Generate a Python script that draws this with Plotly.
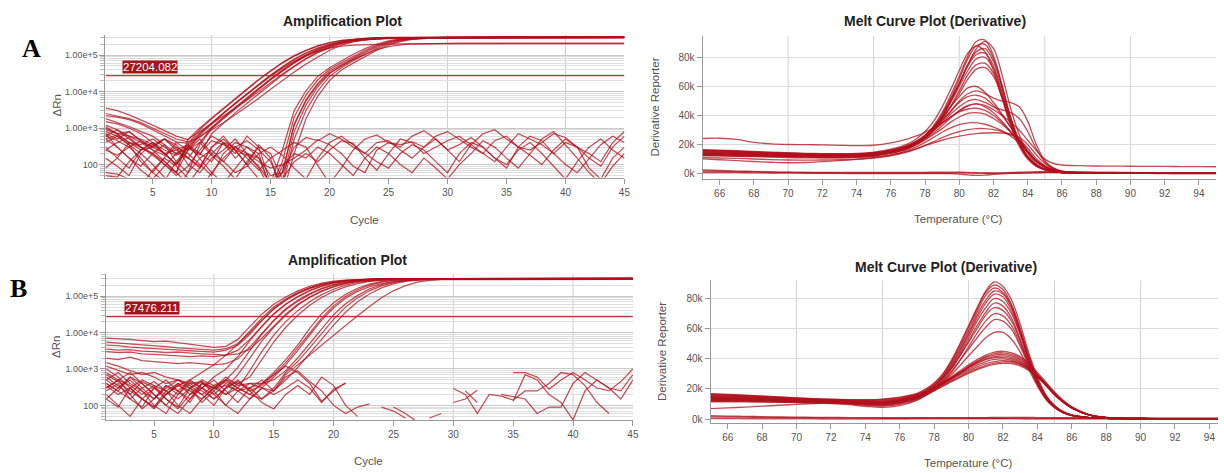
import math
import plotly.graph_objects as go

N = None

# ---------------- axis / tick data ----------------
cycles = list(range(1, 46))
amp_xticks = [5, 10, 15, 20, 25, 30, 35, 40, 45]
amp_xgrid = [10, 20, 30, 40]
amp_ytick_vals = [100, 1000, 10000, 100000]
amp_ytick_text = ["100", "1.00e+3", "1.00e+4", "1.00e+5"]
threshold_a = 27204.082
threshold_b = 27476.211

melt_temps = [65, 66, 67, 68, 69, 70, 71, 72, 73, 74, 75, 76, 77, 77.5, 78, 78.5, 79, 79.5,
              80, 80.5, 81, 81.5, 82, 82.5, 83, 83.5, 84, 84.5, 85, 85.5, 86, 87, 88, 89,
              90, 91, 92, 93, 94, 95]
melt_xticks = [66, 68, 70, 72, 74, 76, 78, 80, 82, 84, 86, 88, 90, 92, 94]
melt_xgrid = [70, 75, 80, 85, 90]
melt_yticks = [0, 20, 40, 60, 80]   # in thousands (k)
melt_ytick_text = ["0k", "20k", "40k", "60k", "80k"]

# ---------------- Panel A : amplification (delta Rn per cycle 1..45) ----------------
a_e1 = [3500,3000,2300,1700,1200,850,600,480,1000,1900,3500,6500,12000,21500,37000,62000,96000,135000,180000,220000,252000,274000,287000,294000,298000,300000,302000,303000,304000,305000,306000,306000,307000,307000,308000,308000,309000,309000,310000,310000,310000,311000,311000,312000,312000]
a_e2 = [2200,2000,1700,1300,900,600,420,380,900,1800,3300,6200,11500,21000,36000,60000,93000,132000,176000,216000,248000,270000,283000,290000,294000,296000,297000,298000,299000,300000,300000,301000,301000,302000,302000,303000,303000,304000,304000,305000,305000,305000,306000,306000,306000]
a_e3 = [1500,1300,1000,700,400,250,180,300,700,1370,2600,4800,8800,16000,28500,48000,78000,115000,157000,200000,237000,264000,280000,291000,296000,299000,301000,302000,303000,304000,305000,305000,306000,306000,307000,307000,308000,308000,308000,309000,309000,309000,310000,310000,310000]
a_e4 = [600,900,500,300,200,120,60,250,650,1300,2500,4600,8500,15500,27500,46000,75000,110000,150000,190000,225000,250000,266000,276000,282000,285000,287000,288000,289000,289000,290000,290000,291000,291000,291000,292000,292000,292000,293000,293000,293000,293000,294000,294000,294000]
a_e5 = [1100,700,800,450,300,500,250,150,400,1000,1900,3500,6500,12000,21500,37000,62000,96000,135000,180000,220000,252000,274000,287000,294000,298000,300000,301000,302000,303000,303000,304000,304000,305000,305000,306000,306000,306000,307000,307000,307000,308000,308000,308000,308000]
a_e6 = [700,300,150,90,200,350,120,60,350,950,1800,3400,6300,11500,21000,36000,60000,93000,130000,172000,210000,240000,262000,276000,285000,290000,293000,295000,296000,297000,297000,298000,298000,299000,299000,300000,300000,300000,301000,301000,301000,302000,302000,302000,302000]
a_e7 = [1800,1400,1100,800,600,350,200,280,180,700,1370,2600,4800,8800,16000,28500,48000,78000,115000,157000,200000,237000,264000,280000,291000,296000,299000,301000,302000,303000,303000,304000,304000,305000,305000,305000,306000,306000,306000,307000,307000,307000,307000,308000,308000]
a_e8 = [500,650,400,300,180,100,60,500,800,1300,2100,3500,5800,10000,17500,30000,50000,80000,120000,165000,210000,245000,270000,285000,292000,296000,298000,299000,300000,300000,301000,301000,301000,302000,302000,302000,302000,303000,303000,303000,303000,303000,304000,304000,304000]
a_e9 = [300,150,80,250,400,200,100,300,600,900,1400,2300,3800,6500,11500,20000,34000,57000,90000,135000,185000,228000,260000,278000,288000,293000,296000,297000,298000,299000,299000,300000,300000,300000,301000,301000,301000,301000,302000,302000,302000,302000,302000,302000,302000]
a_e10 = [900,700,600,500,350,200,250,350,750,1400,2600,4700,8500,15000,26000,43000,68000,98000,128000,155000,175000,187000,194000,198000,200000,201000,202000,202000,203000,203000,203000,204000,204000,204000,204000,205000,205000,205000,205000,205000,206000,206000,206000,206000,206000]
a_e11 = [2500,2100,1800,1400,1000,700,500,420,550,1050,2000,3700,6800,12500,22500,39000,65000,100000,142000,188000,230000,263000,285000,298000,305000,308000,310000,311000,312000,313000,313000,314000,314000,315000,315000,315000,316000,316000,316000,317000,317000,317000,317000,318000,318000]
a_l1 = [600,450,300,150,60,35,120,300,200,450,350,250,180,90,30,250,3000,10500,26000,45000,70000,105000,150000,200000,245000,275000,290000,298000,301000,302000,303000,303000,304000,304000,304000,305000,305000,305000,305000,306000,306000,306000,306000,306000,306000]
a_l2 = [250,400,550,300,200,100,50,90,250,600,400,150,300,200,20,60,1300,6000,17000,36000,55000,85000,125000,175000,225000,262000,284000,295000,300000,302000,302000,303000,303000,303000,304000,304000,304000,304000,305000,305000,305000,305000,305000,305000,305000]
a_l3 = [80,150,400,350,500,300,200,150,80,300,600,250,100,350,150,15,200,1800,7500,20000,39000,60000,92000,135000,185000,233000,268000,287000,296000,300000,301000,301000,302000,302000,303000,303000,303000,304000,304000,304000,304000,305000,305000,305000,305000]
a_l4 = [1200,900,600,400,250,180,300,200,100,50,200,400,300,150,25,120,2000,8000,21000,40000,61000,93000,135000,185000,230000,262000,279000,287000,290000,291000,291000,291000,292000,292000,292000,292000,292000,292000,292000,293000,293000,293000,293000,293000,293000]
a_l5 = [400,600,350,120,60,150,400,250,500,200,120,300,450,250,120,25,500,3000,10500,26000,45000,70000,105000,150000,200000,245000,275000,290000,298000,301000,303000,304000,305000,305000,306000,306000,306000,307000,307000,307000,307000,308000,308000,308000,308000]
a_l6 = [150,90,50,200,350,500,300,100,60,150,250,500,200,80,20,35,800,4300,13500,31000,50000,78000,115000,163000,213000,255000,280000,293000,299000,301000,302000,302000,303000,303000,303000,304000,304000,304000,304000,305000,305000,305000,305000,305000,305000]
a_l7 = [700,500,800,450,300,200,100,350,200,120,400,200,600,300,30,60,1200,5500,15500,32000,50000,75000,105000,140000,170000,190000,201000,206000,208000,209000,210000,210000,210000,210000,211000,211000,211000,211000,211000,212000,212000,212000,212000,212000,212000]
a_n1 = [60,55,40,25,70,150,90,40,20,60,150,300,200,120,80,100,150,250,480,350,200,90,60,250,400,350,420,300,600,800,500,300,200,450,600,300,250,400,700,550,300,200,120,400,800]
a_n2 = [500,300,150,70,40,90,200,350,150,60,30,80,200,150,50,60,300,550,450,700,500,300,200,400,450,250,150,300,500,250,120,350,700,900,500,300,180,100,250,500,300,80,40,150,300]
a_n3 = [800,600,350,200,100,45,20,60,150,250,120,60,90,200,300,180,80,40,150,400,600,350,200,120,80,200,350,250,120,60,200,400,300,150,80,300,600,450,200,100,60,150,350,600,400]
a_n4 = [250,180,300,450,250,120,60,30,80,200,400,300,150,70,150,250,400,300,100,30,80,250,500,650,400,300,600,850,500,250,350,550,300,150,100,250,400,200,90,40,120,300,500,250,150]
a_n5 = [50,45,120,250,400,200,100,250,400,180,90,40,120,300,200,40,120,200,120,250,450,380,150,70,200,500,400,200,300,450,600,350,200,120,300,700,500,350,200,400,300,150,90,300,600]
a_n6 = [1000,700,400,250,300,500,350,150,90,300,500,250,100,40,20,90,200,150,300,200,100,50,150,300,200,100,60,150,80,40,100,200,450,300,150,80,200,500,800,350,150,60,30,90,200]

# ---------------- Panel B : amplification ----------------
b_e1 = [7000,6800,6500,6000,5600,5800,5200,4800,4300,3900,4200,6500,14500,32000,60000,95000,140000,186000,228000,257000,276000,288000,295000,299000,301000,302000,303000,303000,304000,304000,305000,305000,305000,306000,306000,306000,307000,307000,307000,307000,308000,308000,308000,308000,308000]
b_e2 = [400,250,600,300,150,350,200,500,800,1300,2400,4800,11000,25000,50000,83000,127000,172000,215000,248000,270000,284000,292000,297000,300000,301000,302000,302000,303000,303000,303000,304000,304000,304000,304000,305000,305000,305000,305000,305000,306000,306000,306000,306000,306000]
b_e3 = [4500,4400,4000,3800,3600,3500,3300,3100,3000,2900,3300,4500,9000,21000,44000,77000,117000,163000,208000,244000,267000,282000,291000,296000,299000,300000,301000,301000,302000,302000,302000,303000,303000,303000,303000,304000,304000,304000,304000,304000,305000,305000,305000,305000,305000]
b_e4 = [1000,600,300,150,90,250,400,200,300,600,1000,2200,6000,15000,33000,60000,98000,145000,192000,232000,260000,278000,290000,296000,300000,302000,303000,304000,304000,305000,305000,306000,306000,306000,307000,307000,307000,307000,308000,308000,308000,308000,309000,309000,309000]
b_e5 = [3000,2800,2900,2600,2500,2400,2300,2200,2300,2200,2400,3300,6500,14500,32000,60000,95000,140000,186000,228000,257000,276000,288000,295000,299000,301000,302000,302000,303000,303000,303000,304000,304000,304000,304000,305000,305000,305000,305000,305000,306000,306000,306000,306000,306000]
b_e6 = [300,500,200,80,150,350,250,120,400,300,500,1100,3200,9000,21000,42000,72000,112000,158000,203000,240000,265000,281000,290000,296000,299000,300000,301000,301000,302000,302000,302000,303000,303000,303000,303000,304000,304000,304000,304000,304000,305000,305000,305000,305000]
b_e7 = [2000,1800,2100,1700,1600,1500,1400,1500,1400,1300,1400,1900,4000,9500,22000,45000,77000,117000,163000,208000,244000,267000,282000,291000,296000,299000,300000,301000,301000,301000,302000,302000,302000,302000,303000,303000,303000,303000,303000,304000,304000,304000,304000,304000,304000]
b_e8 = [150,300,500,250,100,60,200,400,250,150,300,700,2000,5800,14000,30000,56000,92000,135000,180000,222000,253000,273000,286000,293000,297000,300000,301000,301000,302000,302000,302000,303000,303000,303000,303000,304000,304000,304000,304000,304000,305000,305000,305000,305000]
b_e9 = [3500,3300,3400,3100,3000,2800,2900,2700,2600,2500,2400,2600,3500,7000,15000,32000,60000,95000,140000,186000,228000,257000,276000,288000,295000,299000,301000,302000,302000,303000,303000,303000,304000,304000,304000,304000,305000,305000,305000,305000,305000,306000,306000,306000,306000]
b_e10 = [600,350,200,450,300,150,90,300,500,350,200,300,900,3000,8500,20000,40000,70000,110000,155000,200000,238000,263000,280000,290000,296000,299000,300000,301000,301000,302000,302000,302000,302000,303000,303000,303000,303000,303000,304000,304000,304000,304000,304000,304000]
b_e11 = [5500,5200,5000,4600,4300,4100,3800,3600,3400,3300,3600,5000,10000,22000,45000,78000,118000,163000,206000,240000,263000,278000,287000,292000,295000,297000,298000,298000,299000,299000,300000,300000,300000,300000,301000,301000,301000,301000,301000,302000,302000,302000,302000,302000,302000]
b_e12 = [1200,900,700,800,600,400,500,300,200,350,500,400,600,1800,5500,14000,30000,56000,92000,135000,180000,222000,253000,273000,286000,293000,297000,300000,301000,301000,302000,302000,302000,303000,303000,303000,303000,304000,304000,304000,304000,304000,305000,305000,305000]
b_l1 = [250,400,150,90,300,500,250,150,400,300,600,350,400,400,800,1800,4500,13000,33000,66000,112000,165000,215000,252000,276000,290000,297000,300000,301000,302000,302000,303000,303000,303000,304000,304000,304000,304000,305000,305000,305000,305000,305000,306000,306000]
b_l2 = [500,300,600,400,200,100,250,450,300,150,300,500,250,350,700,1500,3800,10000,25000,55000,98000,150000,202000,243000,270000,286000,295000,299000,301000,302000,302000,303000,303000,303000,303000,304000,304000,304000,304000,304000,305000,305000,305000,305000,305000]
b_l3 = [1500,1200,900,700,800,600,500,400,450,300,350,250,300,400,500,900,2000,5000,13000,31000,62000,105000,158000,208000,246000,272000,287000,295000,299000,301000,302000,303000,303000,304000,304000,304000,305000,305000,305000,305000,305000,306000,306000,306000,306000]
b_l4 = [200,100,50,150,300,200,400,300,120,250,500,300,200,150,300,800,1600,3800,9500,23000,50000,90000,140000,192000,235000,265000,283000,293000,298000,301000,302000,302000,303000,303000,303000,304000,304000,304000,304000,305000,305000,305000,305000,305000,305000]
b_l5 = [800,500,350,200,350,250,150,300,450,200,100,250,400,300,250,500,1100,2600,6500,16000,36000,70000,115000,168000,218000,255000,278000,291000,297000,300000,302000,303000,303000,303000,303000,304000,304000,304000,304000,304000,305000,305000,305000,305000,305000]
b_l6 = [350,200,300,150,80,200,350,500,300,200,400,250,150,300,600,1300,3200,8500,22000,48000,88000,135000,182000,222000,252000,270000,279000,283000,285000,285000,286000,286000,286000,286000,287000,287000,287000,287000,287000,288000,288000,288000,288000,288000,288000]
b_l7 = [400,250,150,300,450,250,100,60,150,300,200,400,300,150,250,700,1300,2500,4700,8800,16000,29000,52000,90000,140000,195000,242000,272000,288000,296000,299000,300000,301000,302000,302000,303000,303000,303000,304000,304000,304000,304000,305000,305000,305000]
b_n1 = [700,450,250,150,90,200,350,250,150,300,450,300,200,400,700,1200,800,400,130,250,420,N,N,N,N,N,N,N,N,120,150,260,N,200,170,150,60,90,90,400,800,500,300,250,700]
b_n2 = [300,500,800,400,200,100,60,150,300,500,250,120,300,500,250,600,900,450,250,100,60,90,110,N,90,60,35,N,N,290,200,60,200,180,140,250,250,400,800,700,350,120,60,N,N]
b_n3 = [150,90,300,500,350,150,80,200,400,250,100,60,150,300,200,300,500,300,120,280,400,N,N,N,N,N,N,45,60,N,250,120,N,N,800,800,600,280,500,800,500,300,250,450,1000]
b_n4 = [500,800,400,250,150,300,500,350,200,100,300,450,250,120,80,200,350,200,600,350,100,50,N,90,70,45,N,N,N,N,N,N,N,N,130,700,500,200,120,40,250,500,300,150,500]

# ---------------- Panel A : melt derivative (thousands) ----------------
ma_h1 = [15.5,15.3,15.0,14.6,14.2,13.8,13.5,13.3,13.2,13.4,14.2,16,19,22,26,33,42,54,67,81,91,92,81,61,39,23,12,6,3,1.6,0.9,0.5,0.3,0.3,0.2,0.2,0.2,0.2,0.2,0.2]
ma_h2 = [14.0,13.9,13.7,13.4,13.1,12.8,12.6,12.4,12.4,12.6,13.4,15.2,18.5,21.5,25.5,32,41,52,65,79,88,89,79,60,38,22,11.5,5.8,2.9,1.5,0.8,0.4,0.3,0.2,0.2,0.2,0.1,0.1,0.1,0.1]
ma_h3 = [16.5,16.2,15.8,15.3,14.8,14.4,14.0,13.8,13.7,13.9,14.8,16.8,20.5,24,29,36,46,58,71,83,88,84,71,52,33,19,10,5,2.6,1.4,0.8,0.5,0.4,0.3,0.3,0.3,0.2,0.2,0.2,0.2]
ma_h4 = [13.0,12.9,12.7,12.5,12.2,12.0,11.8,11.7,11.7,11.9,12.7,14.5,17.8,20.8,24.5,30.5,39,50,62,75,84,86,77,59,38,22,11.5,5.8,2.9,1.5,0.8,0.4,0.3,0.2,0.2,0.2,0.2,0.1,0.1,0.1]
ma_h5 = [15.0,14.8,14.5,14.1,13.7,13.4,13.1,12.9,12.8,13.0,13.8,15.6,19,22,26,32,40,51,62,74,82,83,74,56,36,21,11,5.5,2.8,1.5,0.8,0.5,0.3,0.3,0.2,0.2,0.2,0.2,0.2,0.2]
ma_h6 = [14.5,14.4,14.2,13.9,13.6,13.3,13.0,12.8,12.7,12.9,13.6,15.3,18.5,21.5,25.5,31,39,49,60,71,79,80,72,55,36,21,11,5.5,2.8,1.5,0.8,0.5,0.3,0.3,0.2,0.2,0.2,0.2,0.2,0.2]
ma_h7 = [12.5,12.4,12.2,12.0,11.8,11.6,11.4,11.3,11.3,11.5,12.2,14,17,20,24,29.5,37,46.5,57,68,75,76,69,53,35,20.5,11,5.5,2.8,1.5,0.8,0.5,0.3,0.3,0.2,0.2,0.2,0.2,0.2,0.2]
ma_h8 = [16.0,15.7,15.3,14.8,14.3,13.9,13.5,13.3,13.2,13.4,14.2,16,19.2,22.2,26,31,38,46,55,65,72,73,67,52,35,21,11.5,6,3,1.6,0.9,0.5,0.4,0.3,0.3,0.2,0.2,0.2,0.2,0.2]
ma_h9 = [13.8,13.6,13.4,13.1,12.8,12.5,12.2,12.0,12.0,12.2,13.0,14.8,18,21,25,31,39,50,62,75,86,91,86,68,45,27,14,7,3.5,1.8,1,0.5,0.3,0.2,0.2,0.2,0.2,0.2,0.2,0.2]
ma_m1 = [14.8,14.6,14.3,13.9,13.5,13.2,12.9,12.7,12.6,12.8,13.6,15.4,19,22,26.5,32,38.5,46,53,59,60,56,49,41,32,23,15,8.5,4.5,2.3,1.2,0.6,0.4,0.3,0.3,0.2,0.2,0.2,0.2,0.2]
ma_m2 = [13.5,13.4,13.2,12.9,12.6,12.3,12.1,11.9,11.9,12.1,12.9,14.6,18,21,25,30,36,43,50,55,57,55,52,50,49,46,36,20,9,4,1.8,0.8,0.5,0.4,0.3,0.3,0.3,0.2,0.2,0.2]
ma_m3 = [15.5,15.3,15.0,14.6,14.2,13.8,13.5,13.3,13.2,13.4,14.2,16,19.5,22.5,26.5,31.5,37,43,49,53,54,52,47,40,32,24,16,9,5,2.5,1.3,0.6,0.4,0.3,0.3,0.3,0.2,0.2,0.2,0.2]
ma_m4 = [14.2,14.0,13.8,13.5,13.2,12.9,12.6,12.4,12.3,12.5,13.3,15,18.3,21.3,25,29.5,35,41,46,50,51,49,46,44,42,38,29,17,8,3.5,1.6,0.7,0.5,0.4,0.3,0.3,0.3,0.2,0.2,0.2]
ma_m5 = [12.8,12.7,12.5,12.3,12.1,11.9,11.7,11.6,11.6,11.8,12.6,14.3,17.5,20.3,23.8,28,33,38.5,43.5,47,48,46,42,36,29,22,15,8.5,4.5,2.3,1.2,0.6,0.4,0.3,0.3,0.2,0.2,0.2,0.2,0.2]
ma_m6 = [16.2,15.9,15.5,15.0,14.5,14.1,13.7,13.5,13.4,13.6,14.4,16.2,19.5,22.3,25.8,30,34.5,39,42.5,44.5,45,43.5,40,35,29,22,15,8.5,4.5,2.3,1.2,0.6,0.4,0.3,0.3,0.2,0.2,0.2,0.2,0.2]
ma_m7 = [13.2,13.1,12.9,12.6,12.3,12.0,11.8,11.6,11.6,11.8,12.5,14.2,17.3,20,23.3,27,31,35.5,39,41.5,42,41,38,34,28.5,22,15,8.5,4.5,2.3,1.2,0.6,0.4,0.3,0.3,0.2,0.2,0.2,0.2,0.2]
ma_w1 = [11.0,10.8,10.5,10.1,9.7,9.4,9.3,9.4,9.6,10,11,12.8,16,18.5,21.5,25,28.5,31.5,33.8,35,35,34,32,29.5,26,21,15,9,5,2.6,1.4,0.7,0.5,0.4,0.3,0.3,0.3,0.2,0.2,0.2]
ma_w2 = [10.2,9.6,9.0,8.4,7.9,7.5,7.7,8.3,9.0,9.8,10.8,12.3,15,17,19.5,22,24.8,27.2,29,30.3,31,31,30.3,29,27,23.5,17.5,10.5,5.5,2.8,1.4,0.7,0.5,0.4,0.3,0.3,0.3,0.2,0.2,0.2]
ma_w3 = [12.5,12.3,12.0,11.7,11.4,11.1,10.9,10.8,10.8,11,11.7,13,15.5,17.3,19.3,21.2,23,24.6,25.9,26.9,27.6,28,28.2,28,27,25,20,13,7,3.5,1.7,0.8,0.5,0.4,0.3,0.3,0.3,0.2,0.2,0.2]
ma_o1 = [24.2,24.4,23.6,21.5,20.5,20.1,20.0,19.8,19.5,19.3,19.6,21.2,24,26,28.5,31.5,35,39,43,46.5,48,47,44,40,35.5,30,23,16,10,7,6,5.5,5.3,5.2,5.1,5.0,5.0,4.9,4.9,4.8]
ma_n1 = [1.8,1.6,1.4,1.2,1.0,0.9,0.8,0.7,0.6,0.6,0.5,0.5,0.5,0.5,0.5,0.5,0.5,0.5,0.6,0.6,0.5,0.3,0.2,0.3,0.4,0.5,0.6,0.6,0.7,0.7,0.7,0.7,0.6,0.6,0.6,0.5,0.5,0.5,0.5,0.5]
ma_n2 = [0.8,0.8,0.7,0.6,0.5,0.4,0.3,0.2,0.2,0.1,0.1,0.1,0.1,0.1,0.1,0.1,0.0,0.0,-0.3,-0.8,-1.2,-1.0,-0.5,-0.1,0.2,0.4,0.6,0.8,1.0,1.1,1.1,1.0,0.9,0.8,0.7,0.7,0.6,0.6,0.5,0.5]
ma_n3 = [2.5,2.2,1.8,1.5,1.2,1.0,0.9,0.8,0.8,0.8,0.8,0.8,0.9,0.9,0.9,1.0,1.0,1.0,1.0,0.8,0.6,0.5,0.5,0.6,0.8,1.0,1.2,1.3,1.3,1.2,1.1,1.0,0.9,0.8,0.8,0.7,0.7,0.6,0.6,0.6]

# ---------------- Panel B : melt derivative (thousands) ----------------
mb_h1 = [15.0,14.8,14.5,14.1,13.7,13.3,13.0,12.8,12.7,12.8,13.3,14.6,17,20,24,30,39,50,62,74,85,91,88,79,63,44,28,16,9,5,2.8,1,0.5,0.3,0.3,0.2,0.2,0.2,0.2,0.2]
mb_h2 = [16.5,16.2,15.8,15.2,14.6,14.0,13.5,13.1,12.8,12.7,13.0,14.2,16.5,19.5,23.5,29.5,38,49,61,73,84,89,86,76,60,42,27,15.5,8.8,4.8,2.7,1,0.5,0.3,0.3,0.2,0.2,0.2,0.2,0.2]
mb_h3 = [13.5,13.4,13.2,12.9,12.6,12.3,12.0,11.8,11.6,11.5,11.8,13,15.5,18.5,22.5,28.5,37,47.5,59,71,82,87,84,75,59,41,26,15,8.5,4.6,2.6,1,0.5,0.3,0.3,0.2,0.2,0.2,0.2,0.2]
mb_h4 = [14.2,14.0,13.7,13.4,13.0,12.6,12.3,12.0,11.6,11.2,11.2,12.3,15,18,22,28,36,46,57,69,79,85,83,74,58,40,25.5,15,8.5,4.6,2.6,1,0.5,0.3,0.3,0.2,0.2,0.2,0.2,0.2]
mb_h5 = [12.5,12.5,12.4,12.2,12.0,11.8,11.6,11.4,11.2,11.0,11.2,12.5,15,18,22,27.5,35,45,56,67,77,83,81,72,57,40,25,14.5,8.2,4.5,2.5,1,0.5,0.3,0.3,0.2,0.2,0.2,0.2,0.2]
mb_h6 = [15.5,15.2,14.8,14.3,13.8,13.3,12.9,12.5,12.0,11.5,11.3,12.3,14.8,17.8,21.5,27,34,43.5,54,65,74,80,78,70,56,39,25,14.5,8.2,4.5,2.5,1,0.5,0.3,0.3,0.2,0.2,0.2,0.2,0.2]
mb_h7 = [13.0,12.9,12.7,12.4,12.1,11.8,11.5,11.2,10.8,10.3,10.1,11.2,13.8,16.8,20.5,26,33,42,52,62,71,77,75,67,53,37,24,14,8,4.4,2.5,1,0.5,0.3,0.3,0.2,0.2,0.2,0.2,0.2]
mb_h8 = [16.8,16.4,15.9,15.3,14.7,14.1,13.6,13.2,12.8,12.5,12.6,13.6,16,19,22.5,27.5,34,42,51,60,69,74,72,65,52,37,24,14,8,4.4,2.5,1,0.5,0.3,0.3,0.2,0.2,0.2,0.2,0.2]
mb_h9 = [12.0,12.0,11.9,11.8,11.6,11.4,11.2,11.0,10.6,10.0,9.6,10.6,13.2,16,19.5,24.5,31,39,48,57,65,70,68.5,62,50,36,23.5,14,8,4.4,2.5,1,0.5,0.3,0.3,0.2,0.2,0.2,0.2,0.2]
mb_h10 = [14.8,14.6,14.3,13.9,13.5,13.1,12.7,12.3,11.8,11.3,11.0,12.0,14.5,17.3,20.8,25.5,31.5,39,46.5,54,61,66,65,59.5,48.5,35,23,13.5,7.8,4.3,2.4,1,0.5,0.3,0.3,0.2,0.2,0.2,0.2,0.2]
mb_h11 = [13.8,13.7,13.5,13.2,12.9,12.6,12.3,12.0,11.5,10.8,10.5,11.5,14,16.8,20,24.5,29.5,35.5,42,48,54,57.5,57.5,53,44.5,33,22,13,7.5,4.2,2.4,1,0.5,0.3,0.3,0.2,0.2,0.2,0.2,0.2]
mb_l1 = [16.2,15.9,15.4,14.8,14.2,13.6,13.1,12.7,12.3,12.0,12.1,13.2,16,18,21,24.5,28,32,36,39.5,42.5,44.5,45,44,41.5,37,31,24.5,18,12.5,8.2,3,1.1,0.5,0.4,0.3,0.3,0.3,0.2,0.2]
mb_l2 = [13.0,12.9,12.7,12.4,12.1,11.8,11.5,11.2,10.8,10.3,10.2,11.4,14.3,16.5,19.5,23,26.5,30.5,34.5,38,41,42.5,43,42,39.5,35,29.5,23.5,17,11.8,7.8,2.8,1,0.5,0.4,0.3,0.3,0.3,0.2,0.2]
mb_l3 = [14.5,14.3,14.0,13.6,13.2,12.8,12.4,12.0,11.5,11.0,10.8,12.0,15,17.5,20.5,24,27.5,31,34.5,37.5,40,41.5,42,41,38.5,34.5,29,23,16.5,11.5,7.5,2.8,1,0.5,0.4,0.3,0.3,0.3,0.2,0.2]
mb_l4 = [11.5,11.5,11.4,11.3,11.2,11.1,11.0,10.8,10.3,9.5,9.0,10.5,14,16.8,20,23.5,27,30.5,34,37,39.5,40.8,41,40,37.8,34,28.5,22.5,16,11,7.2,2.6,1,0.5,0.4,0.3,0.3,0.3,0.2,0.2]
mb_l5 = [15.8,15.5,15.0,14.4,13.8,13.2,12.7,12.2,11.6,11.0,10.6,11.6,14.5,17,20,23.5,27,30,33,35.8,38.2,39.6,40,39.2,37,33.5,28.5,22.8,16.5,11.5,7.5,2.8,1,0.5,0.4,0.3,0.3,0.3,0.2,0.2]
mb_l6 = [7.0,7.5,8.0,8.6,9.2,9.8,10.3,10.6,10.4,9.8,9.5,11,14.2,16.8,19.8,23,26.2,29.2,32,34.7,36.8,38.2,38.8,38.4,36.6,33.5,29,23.5,17.2,12,8,3,1.1,0.5,0.4,0.3,0.3,0.3,0.2,0.2]
mb_l7 = [12.2,12.1,11.9,11.6,11.3,11.0,10.7,10.3,9.6,8.5,7.8,9,12.5,15.5,18.8,22,25.2,28.2,31,33.5,35.7,37.2,38,37.8,36.2,33,28.2,22.5,16.5,11.5,7.5,2.8,1,0.5,0.4,0.3,0.3,0.3,0.2,0.2]
mb_l8 = [14.0,13.8,13.5,13.1,12.7,12.3,11.9,11.5,11.0,10.5,10.4,11.6,14.8,17.2,20.3,23.8,27.4,31,35,38.5,41.5,43.5,44,43,40.5,36,30,23.5,17,11.8,7.8,2.8,1,0.5,0.4,0.3,0.3,0.3,0.2,0.2]
mb_l9 = [13.2,13.0,12.8,12.5,12.2,11.8,11.4,11.0,10.2,9.2,8.6,9.8,13,15.8,18.8,21.8,24.8,27.7,30.3,32.8,34.8,36.3,37,36.8,35.3,32.3,27.8,22.2,16.2,11.3,7.4,2.8,1,0.5,0.4,0.3,0.3,0.3,0.2,0.2]
mb_n1 = [1.5,1.4,1.3,1.2,1.1,1.0,0.9,0.8,0.7,0.7,0.6,0.6,0.6,0.6,0.7,0.7,0.7,0.7,0.6,0.6,0.6,0.6,0.6,0.7,0.7,0.7,0.6,0.6,0.6,0.6,0.6,0.5,0.5,0.5,0.5,0.5,0.5,0.5,0.5,0.5]
mb_n2 = [0.5,0.5,0.4,0.4,0.3,0.3,0.3,0.2,0.2,0.2,0.2,0.2,0.3,0.3,0.3,0.3,0.4,0.4,0.4,0.4,0.4,0.4,0.3,0.3,0.3,0.2,0.2,0.2,0.2,0.2,0.2,0.2,0.2,0.1,0.1,0.1,0.1,0.1,0.1,0.1]
mb_n3 = [2.2,2.0,1.8,1.6,1.4,1.3,1.2,1.1,1.0,0.9,0.9,0.9,0.9,0.9,0.9,0.9,1.0,1.0,1.0,1.0,1.0,1.1,1.1,1.1,1.1,1.1,1.0,1.0,1.0,0.9,0.9,0.9,0.8,0.8,0.8,0.7,0.7,0.7,0.7,0.7]

amp_a_series = [a_n1, a_n2, a_n3, a_n4, a_n5, a_n6, a_l1, a_l2, a_l3, a_l4, a_l5, a_l6, a_l7,
                a_e1, a_e2, a_e3, a_e4, a_e5, a_e6, a_e7, a_e8, a_e9, a_e10, a_e11]
amp_b_series = [b_n1, b_n2, b_n3, b_n4, b_l1, b_l2, b_l3, b_l4, b_l5, b_l6, b_l7,
                b_e1, b_e2, b_e3, b_e4, b_e5, b_e6, b_e7, b_e8, b_e9, b_e10, b_e11, b_e12]
melt_a_series = [ma_n1, ma_n2, ma_n3, ma_o1, ma_w1, ma_w2, ma_w3, ma_m1, ma_m2, ma_m3, ma_m4,
                 ma_m5, ma_m6, ma_m7, ma_h1, ma_h2, ma_h3, ma_h4, ma_h5, ma_h6, ma_h7, ma_h8, ma_h9]
melt_b_series = [mb_n1, mb_n2, mb_n3, mb_l1, mb_l2, mb_l3, mb_l4, mb_l5, mb_l6, mb_l7, mb_l8,
                 mb_l9, mb_h1, mb_h2, mb_h3, mb_h4, mb_h5, mb_h6, mb_h7, mb_h8, mb_h9, mb_h10, mb_h11]

# ---------------- styling ----------------
W, H = 1224, 473
LINE = "rgba(176,18,30,0.75)"
FONT = "Liberation Sans, Arial, sans-serif"
TICKC = "#555555"


def px(x):
    return x / W


def py(y):
    return 1 - y / H


fig = go.Figure()


def add_lines(series, xs, xa, ya, shape, width):
    for s in series:
        fig.add_trace(go.Scatter(x=xs, y=s, mode="lines", xaxis=xa, yaxis=ya,
                                 line=dict(color=LINE, width=width, shape=shape,
                                           smoothing=1.0 if shape == "spline" else None),
                                 hoverinfo="skip", showlegend=False, connectgaps=False))


add_lines(amp_a_series, cycles, "x", "y", "linear", 1.25)
add_lines(melt_a_series, melt_temps, "x2", "y2", "spline", 1.35)
add_lines(amp_b_series, cycles, "x3", "y3", "linear", 1.25)
add_lines(melt_b_series, melt_temps, "x4", "y4", "spline", 1.35)

# threshold lines
for thr, xa, ya in [(threshold_a, "x", "y"), (threshold_b, "x3", "y3")]:
    fig.add_trace(go.Scatter(x=[cycles[0], cycles[-1]], y=[thr, thr], mode="lines",
                             xaxis=xa, yaxis=ya, hoverinfo="skip", showlegend=False,
                             line=dict(color="rgba(185,30,40,0.9)", width=1.4)))


def amp_x(domain, rng, anchor):
    return dict(domain=domain, range=rng, anchor=anchor, tickvals=amp_xticks, showgrid=False,
                zeroline=False, ticks="outside", ticklen=5, tickcolor="#999", showline=True,
                linecolor="#999", tickfont=dict(family=FONT, size=10, color=TICKC))


def amp_y(domain, rng, anchor):
    return dict(domain=domain, type="log", range=rng, anchor=anchor,
                tickvals=amp_ytick_vals, ticktext=amp_ytick_text,
                showgrid=True, gridcolor="#c9c9c9", gridwidth=1, zeroline=False,
                ticks="outside", ticklen=5, tickcolor="#999", showline=True, linecolor="#999",
                minor=dict(dtick="D1", showgrid=True, gridcolor="#dedede", ticks="outside",
                           ticklen=4, tickcolor="#bbb"),
                tickfont=dict(family=FONT, size=9, color=TICKC))


def melt_x(domain, rng, anchor):
    return dict(domain=domain, range=rng, anchor=anchor, tickvals=melt_xticks, showgrid=False,
                zeroline=False, ticks="outside", ticklen=5, tickcolor="#999", showline=True,
                linecolor="#999", tickfont=dict(family=FONT, size=10, color=TICKC))


def melt_y(domain, rng, anchor):
    return dict(domain=domain, range=rng, anchor=anchor, tickvals=melt_yticks,
                ticktext=melt_ytick_text,
                showgrid=True, gridcolor="#dcdcdc", zeroline=False, ticks="outside", ticklen=5,
                tickcolor="#999", showline=True, linecolor="#999",
                tickfont=dict(family=FONT, size=10, color=TICKC))


fig.update_layout(
    width=W, height=H, margin=dict(l=0, r=0, t=0, b=0),
    paper_bgcolor="white", plot_bgcolor="white", showlegend=False,
    xaxis=amp_x([px(106), px(627.5)], [1, 45], "y"),
    yaxis=amp_y([py(178), py(35)], [1.642, 5.55], "x"),
    xaxis2=melt_x([px(706), px(1222)], [65, 95], "y2"),
    yaxis2=melt_y([py(179), py(36)], [-3.4, 94.8], "x2"),
    xaxis3=amp_x([px(106.7), px(636)], [1, 45], "y3"),
    yaxis3=amp_y([py(421), py(274.4)], [1.596, 5.613], "x3"),
    xaxis4=melt_x([px(714), 1.0], [65, 94.5], "y4"),
    yaxis4=melt_y([py(424), py(281)], [-2.65, 92.05], "x4"),
)

shapes = []
for c in amp_xgrid:
    for xr, yr in [("x", "y domain"), ("x3", "y3 domain")]:
        shapes.append(dict(type="line", xref=xr, yref=yr, x0=c, x1=c, y0=0, y1=1,
                           line=dict(color="#cdcdcd", width=1), layer="below"))
for t in melt_xgrid:
    for xr, yr in [("x2", "y2 domain"), ("x4", "y4 domain")]:
        shapes.append(dict(type="line", xref=xr, yref=yr, x0=t, x1=t, y0=0, y1=1,
                           line=dict(color="#d2d2d2", width=1), layer="below"))
fig.update_layout(shapes=shapes)

ann = []


def text(x, y, s, size, color="#444", bold=False, angle=0, family=FONT):
    ann.append(dict(x=px(x), y=py(y), xref="paper", yref="paper", text=f"<b>{s}</b>" if bold else s,
                    showarrow=False, xanchor="center", yanchor="middle", textangle=angle,
                    font=dict(family=family, size=size, color=color)))


text(344, 21, "Amplification Plot", 14, "#222", True)
text(940, 21, "Melt Curve Plot (Derivative)", 14, "#222", True)
text(349, 261, "Amplification Plot", 14, "#222", True)
text(951, 268, "Melt Curve Plot (Derivative)", 14, "#222", True)
text(366, 220, "Cycle", 11.5, "#555")
text(370, 462, "Cycle", 11.5, "#555")
text(57, 106, "ΔRn", 11.5, "#555", angle=-90)
text(57, 348, "ΔRn", 11.5, "#555", angle=-90)
text(963, 219, "Temperature (°C)", 11.5, "#555")
text(973, 464, "Temperature (°C)", 11.5, "#555")
text(658, 107, "Derivative Reporter", 11.5, "#555", angle=-90)
text(666, 352, "Derivative Reporter", 11.5, "#555", angle=-90)
text(32, 49, "A", 26, "#000", True, family="Liberation Serif, Times New Roman, serif")
text(18.5, 289, "B", 26, "#000", True, family="Liberation Serif, Times New Roman, serif")

for thr_text, x0, ybot in [(f"{threshold_a:.3f}", 123, 74.5), (f"{threshold_b:.3f}", 125, 315.5)]:
    ann.append(dict(x=px(x0), y=py(ybot), xref="paper", yref="paper", text=thr_text,
                    showarrow=False, xanchor="left", yanchor="bottom", bgcolor="#a8121d",
                    borderpad=0, font=dict(family=FONT, size=11.5, color="white")))

fig.update_layout(annotations=ann)
fig.write_html("out.html", config={"displayModeBar": False, "staticPlot": True},
               post_script="document.body.style.margin='0px';document.body.style.padding='0px';"
                           "document.body.style.overflow='hidden';")
